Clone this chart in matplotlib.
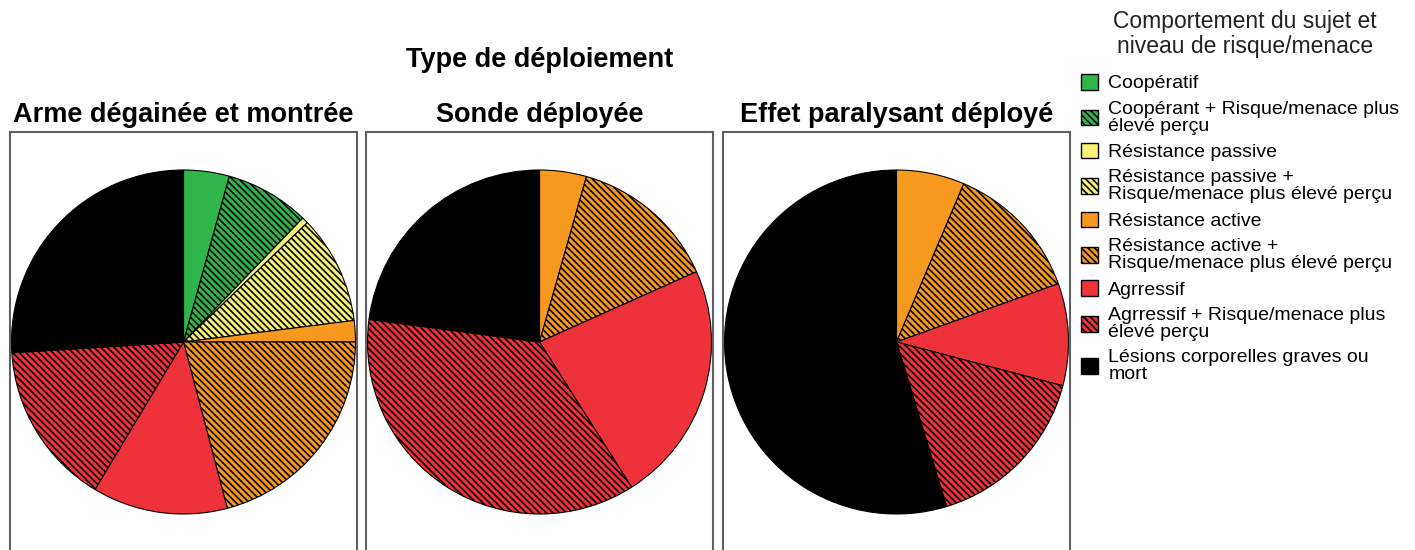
import matplotlib
matplotlib.use("Agg")
import matplotlib.pyplot as plt
from matplotlib.patches import Patch

# categories (legend order) and colours
categories = [
    "Coopératif",
    "Coopérant + Risque/menace plus\nélevé perçu",
    "Résistance passive",
    "Résistance passive +\nRisque/menace plus élevé perçu",
    "Résistance active",
    "Résistance active +\nRisque/menace plus élevé perçu",
    "Agrressif",
    "Agrressif + Risque/menace plus\nélevé perçu",
    "Lésions corporelles graves ou\nmort",
]
colors = ["#2fb64b", "#2fb64b", "#f8f378", "#f8f378", "#f7991e", "#f7991e",
          "#ee3239", "#ee3239", "#000000"]
hatches = ["", "\\\\\\\\\\", "", "\\\\\\\\\\", "", "\\\\\\\\\\", "", "\\\\\\\\\\", ""]

# percentages per deployment type
panel_titles = ["Arme dégainée et montrée", "Sonde déployée",
                "Effet paralysant déployé"]
arme = [4.3, 7.9, 0.6, 10.2, 2.0, 20.9, 12.7, 15.4, 26.0]
sonde = [0, 0, 0, 0, 4.4, 13.9, 22.7, 36.1, 22.9]
effet = [0, 0, 0, 0, 6.4, 13.1, 9.6, 16.2, 54.7]

plt.rcParams["font.family"] = ["Liberation Sans", "DejaVu Sans"]
plt.rcParams["hatch.linewidth"] = 1.2

W, H = 1415, 550
fig = plt.figure(figsize=(W / 100, H / 100), dpi=100)

box_left = [10, 366, 723]
box_w = 347
box_top = 132
box_h = 420
radius_px = 172


def pie_panel(left, values, title):
    ax = fig.add_axes([left / W, 1 - (box_top + box_h) / H, box_w / W, box_h / H])
    keep = [i for i, v in enumerate(values) if v > 0]
    ax.pie([values[i] for i in keep],
           colors=[colors[i] for i in keep],
           hatch=[hatches[i] for i in keep],
           startangle=90, counterclock=False, radius=1.0,
           wedgeprops={"edgecolor": "black", "linewidth": 0.8})
    ax.set_aspect("auto")
    ax.set_xlim(-box_w / 2 / radius_px, box_w / 2 / radius_px)
    ax.set_ylim(-box_h / 2 / radius_px, box_h / 2 / radius_px)
    ax.set_frame_on(True)
    for sp in ax.spines.values():
        sp.set_color("#606060")
        sp.set_linewidth(1.5)
    ax.set_xticks([])
    ax.set_yticks([])
    ax.set_title(title, fontsize=19.5, fontweight="bold", pad=7)
    return ax


for left, vals, title in zip(box_left, [arme, sonde, effet], panel_titles):
    pie_panel(left, vals, title)

fig.text(540 / W, 1 - 60 / H, "Type de déploiement", ha="center", va="center",
         fontsize=19.5, fontweight="bold")

# legend title placed on its own, then the entries below it
fig.text(1245 / W, 1 - 34 / H, "Comportement du sujet et\nniveau de risque/menace",
         ha="center", va="center", fontsize=16.5, color="#222222",
         linespacing=1.15)

handles = [Patch(facecolor=c, edgecolor="black", hatch=h, linewidth=1.0)
           for c, h in zip(colors, hatches)]
leg = fig.legend(handles, categories, loc="upper left",
                 bbox_to_anchor=(1081 / W, 1 - 74 / H),
                 frameon=False, fontsize=14,
                 handlelength=0.85, handleheight=0.85, handletextpad=0.55,
                 labelspacing=0.42, borderaxespad=0, borderpad=0)
for t in leg.get_texts():
    t.set_linespacing(1.0)

fig.savefig("out.png", dpi=100)
